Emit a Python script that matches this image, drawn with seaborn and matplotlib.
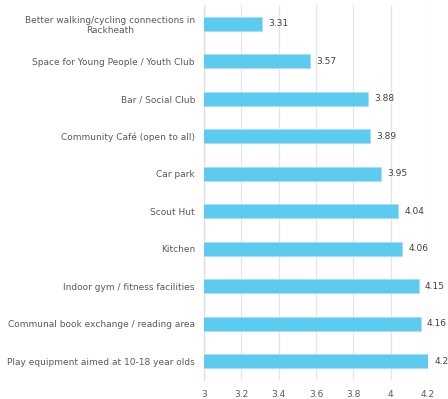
import matplotlib
matplotlib.use("Agg")
import matplotlib.pyplot as plt
import seaborn as sns
import pandas as pd

categories = [
    "Better walking/cycling connections in\nRackheath",
    "Space for Young People / Youth Club",
    "Bar / Social Club",
    "Community Café (open to all)",
    "Car park",
    "Scout Hut",
    "Kitchen",
    "Indoor gym / fitness facilities",
    "Communal book exchange / reading area",
    "Play equipment aimed at 10-18 year olds",
]
scores = [3.31, 3.57, 3.88, 3.89, 3.95, 4.04, 4.06, 4.15, 4.16, 4.2]
x_ticks = [3, 3.2, 3.4, 3.6, 3.8, 4, 4.2]
x_tick_labels = ["3", "3.2", "3.4", "3.6", "3.8", "4", "4.2"]

df = pd.DataFrame({"facility": categories, "score": scores})

sns.set_theme(style="white")
plt.rcParams["font.family"] = ["DejaVu Sans"]

fig = plt.figure(figsize=(4.48, 3.99), dpi=100)
ax = fig.add_axes([0.4554, 0.0476, 0.5, 0.9399])

sns.barplot(data=df, x="score", y="facility", orient="h", ax=ax,
            color="#5DCAF0", saturation=1, width=0.37,
            edgecolor="#A6E0F6", linewidth=0.6, zorder=3)

ax.set_xlim(3, 4.2)
ax.set_ylim(9.5, -0.5)
ax.set_xticks(x_ticks)
ax.set_xticklabels(x_tick_labels)
ax.set_xlabel("")
ax.set_ylabel("")

ax.grid(axis="x", color="#E6E6E6", linewidth=1, zorder=0)
ax.grid(axis="y", visible=False)
for side in ["top", "right", "bottom"]:
    ax.spines[side].set_visible(False)
ax.spines["left"].set_color("#E0E0E0")
ax.spines["left"].set_linewidth(1)

fs = 6.5
ax.tick_params(axis="x", length=0, pad=7, labelsize=fs, labelcolor="#595959")
ax.tick_params(axis="y", length=0, pad=6.5, labelsize=fs, labelcolor="#595959")
for lbl in ax.get_yticklabels():
    lbl.set_multialignment("center")

for i, v in enumerate(scores):
    ax.annotate(f"{v:g}", xy=(v, i), xytext=(4.5, 0), textcoords="offset points",
                va="center", ha="left", fontsize=fs, color="#404040",
                annotation_clip=False)

fig.savefig("out.png", dpi=100)
